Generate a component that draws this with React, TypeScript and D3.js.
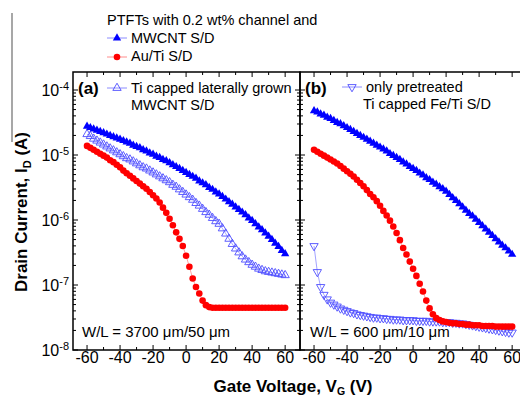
import React from 'react';
import * as d3 from 'd3';

// gate voltage sweep (V)
const gateVoltage = [
  -60, -58, -56, -54, -52, -50, -48, -46, -44, -42, -40, -38, -36, -34, -32, -30,
  -28, -26, -24, -22, -20, -18, -16, -14, -12, -10, -8, -6, -4, -2, 0,
  2, 4, 6, 8, 10, 12, 14, 16, 18, 20, 22, 24, 26, 28, 30,
  32, 34, 36, 38, 40, 42, 44, 46, 48, 50, 52, 54, 56, 58, 60,
];

// log10 of drain current (A)
// panel (a), W/L = 3700 um / 50 um
const aMwcnt = [
  -4.56, -4.58, -4.60, -4.62, -4.64, -4.66, -4.68, -4.70, -4.72, -4.74, -4.76, -4.78, -4.80, -4.82, -4.85, -4.87,
  -4.89, -4.92, -4.94, -4.97, -4.99, -5.02, -5.04, -5.07, -5.09, -5.12, -5.15, -5.18, -5.21, -5.24, -5.27,
  -5.30, -5.33, -5.36, -5.40, -5.43, -5.46, -5.50, -5.53, -5.57, -5.60, -5.64, -5.68, -5.72, -5.76, -5.80,
  -5.84, -5.88, -5.92, -5.97, -6.01, -6.06, -6.11, -6.15, -6.20, -6.25, -6.30, -6.36, -6.41, -6.47, -6.52,
];
const aTiCapped = [
  -4.68, -4.71, -4.75, -4.78, -4.81, -4.84, -4.87, -4.90, -4.93, -4.96, -4.99, -5.02, -5.05, -5.07, -5.10, -5.13,
  -5.16, -5.19, -5.21, -5.24, -5.27, -5.30, -5.33, -5.36, -5.39, -5.42, -5.46, -5.49, -5.53, -5.57, -5.61,
  -5.65, -5.69, -5.74, -5.78, -5.83, -5.88, -5.92, -5.97, -6.02, -6.06, -6.13, -6.21, -6.29, -6.37, -6.44,
  -6.50, -6.56, -6.61, -6.65, -6.69, -6.72, -6.75, -6.77, -6.79, -6.80, -6.81, -6.82, -6.83, -6.84, -6.85,
];
const aAuTi = [
  -4.86, -4.89, -4.92, -4.95, -4.98, -5.01, -5.04, -5.08, -5.11, -5.15, -5.19, -5.24, -5.28, -5.32, -5.36, -5.40,
  -5.44, -5.48, -5.52, -5.57, -5.62, -5.67, -5.73, -5.81, -5.89, -5.98, -6.08, -6.19, -6.29, -6.40, -6.55,
  -6.72, -6.90, -7.03, -7.13, -7.24, -7.31, -7.34, -7.35, -7.35, -7.35, -7.35, -7.35, -7.35, -7.35, -7.35,
  -7.35, -7.35, -7.35, -7.35, -7.35, -7.35, -7.35, -7.35, -7.35, -7.35, -7.35, -7.35, -7.35, -7.35, -7.35,
];
// panel (b), W/L = 600 um / 10 um
const bMwcnt = [
  -4.32, -4.34, -4.37, -4.39, -4.42, -4.44, -4.47, -4.50, -4.52, -4.55, -4.58, -4.61, -4.64, -4.67, -4.70, -4.73,
  -4.76, -4.79, -4.82, -4.85, -4.88, -4.91, -4.94, -4.98, -5.01, -5.04, -5.07, -5.11, -5.14, -5.18, -5.21,
  -5.24, -5.28, -5.31, -5.35, -5.38, -5.42, -5.45, -5.49, -5.52, -5.56, -5.61, -5.66, -5.70, -5.75, -5.80,
  -5.85, -5.90, -5.94, -5.99, -6.04, -6.09, -6.14, -6.19, -6.24, -6.29, -6.34, -6.39, -6.43, -6.48, -6.53,
];
const bPretreated = [
  -6.40, -6.80, -7.03, -7.15, -7.22, -7.27, -7.30, -7.33, -7.36, -7.38, -7.40, -7.42, -7.43, -7.45, -7.46, -7.47,
  -7.48, -7.49, -7.50, -7.50, -7.51, -7.51, -7.52, -7.52, -7.53, -7.53, -7.53, -7.54, -7.54, -7.54, -7.54,
  -7.55, -7.55, -7.55, -7.55, -7.56, -7.56, -7.56, -7.56, -7.57, -7.57, -7.57, -7.58, -7.58, -7.59, -7.59,
  -7.60, -7.61, -7.62, -7.63, -7.64, -7.65, -7.66, -7.67, -7.68, -7.69, -7.70, -7.71, -7.72, -7.73, -7.73,
];
const bAuTi = [
  -4.92, -4.95, -4.98, -5.01, -5.04, -5.07, -5.10, -5.13, -5.17, -5.21, -5.25, -5.29, -5.33, -5.38, -5.43, -5.48,
  -5.54, -5.60, -5.65, -5.71, -5.78, -5.86, -5.93, -6.01, -6.10, -6.20, -6.31, -6.43, -6.53, -6.64, -6.75,
  -6.86, -6.98, -7.10, -7.24, -7.36, -7.45, -7.51, -7.54, -7.56, -7.57, -7.58, -7.59, -7.59, -7.60, -7.60,
  -7.61, -7.61, -7.62, -7.62, -7.62, -7.63, -7.63, -7.63, -7.63, -7.64, -7.64, -7.64, -7.64, -7.64, -7.64,
];

const xTicks = [-60, -40, -20, 0, 20, 40, 60];
const xMinorTicks = [-50, -30, -10, 10, 30, 50];
const decades = [-8, -7, -6, -5, -4];

const FONT = '"Liberation Sans", Arial, sans-serif';
const BLUE = '#0000ff';
const OPEN_BLUE = '#4d4dff';
const RED = '#ff0000';
const BLUE_LINE = '#8c8cff';
const RED_LINE = '#ff8c8c';

const W = 520;
const H = 399;
const top = 72;
const bottom = 350;

const y = d3.scaleLog().domain([1e-8, Math.pow(10, -3.723)]).range([bottom, top]);
const xDomain: [number, number] = [-68.5, 69];
const xA = d3.scaleLinear().domain(xDomain).range([73, 300]);
const xB = d3.scaleLinear().domain(xDomain).range([300, 527]);

const triPath = d3.symbol().type(d3.symbolTriangle).size(30)() as string;

type Kind = 'filled' | 'open' | 'openDown' | 'dot';

function Marker({ kind, cx, cy }: { kind: Kind; cx: number; cy: number }) {
  if (kind === 'dot') return <circle cx={cx} cy={cy} r={3.3} fill={RED} />;
  if (kind === 'filled') return <path d={triPath} transform={`translate(${cx},${cy})`} fill={BLUE} />;
  return (
    <path
      d={triPath}
      transform={`translate(${cx},${cy})${kind === 'openDown' ? ' rotate(180)' : ''}`}
      fill="none"
      stroke={OPEN_BLUE}
      strokeWidth={0.9}
    />
  );
}

function Series({ x, values, kind }: { x: d3.ScaleLinear<number, number>; values: number[]; kind: Kind }) {
  const pts = gateVoltage.map((v, i) => [x(v), y(Math.pow(10, values[i]))] as [number, number]);
  const line = d3.line()(pts) as string;
  const stroke = kind === 'dot' ? RED_LINE : BLUE_LINE;
  return (
    <g>
      <path d={line} fill="none" stroke={stroke} strokeWidth={0.8} />
      {pts.map(([cx, cy], i) => <Marker key={i} kind={kind} cx={cx} cy={cy} />)}
    </g>
  );
}

function Frame({ x }: { x: d3.ScaleLinear<number, number> }) {
  const [x0, x1] = x.range();
  const minorY: number[] = [];
  decades.slice(0, -1).forEach(d => {
    for (let k = 2; k <= 9; k++) minorY.push(k * Math.pow(10, d));
  });
  minorY.push(2e-4);
  const ticks: JSX.Element[] = [];
  xTicks.forEach(t => {
    ticks.push(<line key={`b${t}`} x1={x(t)} x2={x(t)} y1={bottom} y2={bottom - 5} />);
    ticks.push(<line key={`t${t}`} x1={x(t)} x2={x(t)} y1={top} y2={top + 5} />);
  });
  xMinorTicks.forEach(t => {
    ticks.push(<line key={`bm${t}`} x1={x(t)} x2={x(t)} y1={bottom} y2={bottom - 3} />);
    ticks.push(<line key={`tm${t}`} x1={x(t)} x2={x(t)} y1={top} y2={top + 3} />);
  });
  decades.forEach(d => {
    const yy = y(Math.pow(10, d));
    ticks.push(<line key={`l${d}`} x1={x0} x2={x0 + 5} y1={yy} y2={yy} />);
    ticks.push(<line key={`r${d}`} x1={x1} x2={x1 - 5} y1={yy} y2={yy} />);
  });
  minorY.forEach((v, i) => {
    const yy = y(v);
    if (yy < top) return;
    ticks.push(<line key={`lm${i}`} x1={x0} x2={x0 + 3} y1={yy} y2={yy} />);
    ticks.push(<line key={`rm${i}`} x1={x1} x2={x1 - 3} y1={yy} y2={yy} />);
  });
  return (
    <g stroke="#000" strokeWidth={1}>
      {ticks}
      <rect x={x0} y={top} width={x1 - x0} height={bottom - top} fill="none" strokeWidth={1.5} />
    </g>
  );
}

function XLabels({ x }: { x: d3.ScaleLinear<number, number> }) {
  return (
    <g fontSize={16} textAnchor="middle">
      {xTicks.map(t => (
        <text key={t} x={x(t)} y={bottom + 13}>{t}</text>
      ))}
    </g>
  );
}

export default function App() {
  return (
    <svg
      width={W}
      height={H}
      style={{ position: 'absolute', left: 0, top: 0, background: '#fff' }}
      fontFamily={FONT}
    >
      <rect width={W} height={H} fill="#fff" />
      <line x1={12} x2={12} y1={13} y2={142} stroke="#8a8a8a" strokeWidth={1.5} />

      {/* top legend */}
      <text x={107} y={25} fontSize={14.5}>PTFTs with 0.2 wt% channel and</text>
      <line x1={107} x2={127} y1={38} y2={38} stroke={BLUE_LINE} />
      <Marker kind="filled" cx={117} cy={38} />
      <text x={131} y={43} fontSize={14.5}>MWCNT S/D</text>
      <line x1={107} x2={127} y1={57} y2={57} stroke={RED_LINE} />
      <Marker kind="dot" cx={117} cy={57} />
      <text x={131} y={61} fontSize={14.5}>Au/Ti S/D</text>

      {/* panel (a) */}
      <Series x={xA} values={aTiCapped} kind="open" />
      <Series x={xA} values={aMwcnt} kind="filled" />
      <Series x={xA} values={aAuTi} kind="dot" />

      {/* panel (b) */}
      <Series x={xB} values={bPretreated} kind="openDown" />
      <Series x={xB} values={bMwcnt} kind="filled" />
      <Series x={xB} values={bAuTi} kind="dot" />

      <Frame x={xA} />
      <Frame x={xB} />

      <text x={78} y={94} fontSize={17} fontWeight="bold">(a)</text>
      <line x1={107} x2={127} y1={88} y2={88} stroke={BLUE_LINE} />
      <Marker kind="open" cx={117} cy={88} />
      <text x={131} y={93} fontSize={14.5}>Ti capped laterally grown</text>
      <text x={131} y={110} fontSize={14.5}>MWCNT S/D</text>

      <text x={305} y={94} fontSize={17} fontWeight="bold">(b)</text>
      <line x1={342} x2={362} y1={87} y2={87} stroke={BLUE_LINE} />
      <Marker kind="openDown" cx={352} cy={87} />
      <text x={366} y={92} fontSize={14.5}>only pretreated</text>
      <text x={363} y={109} fontSize={14.5}>Ti capped Fe/Ti S/D</text>

      <text x={82} y={337} fontSize={15}>W/L = 3700 μm/50 μm</text>
      <text x={310} y={337} fontSize={15}>W/L = 600 μm/10 μm</text>

      {/* y tick labels */}
      <g fontSize={16} textAnchor="end">
        {decades.map(d => (
          <text key={d} x={69} y={y(Math.pow(10, d)) + 5.5}>
            10<tspan fontSize={11} dy={-6}>{d}</tspan>
          </text>
        ))}
      </g>
      <XLabels x={xA} />
      <XLabels x={xB} />

      {/* axis titles */}
      <text x={293} y={392} fontSize={17} fontWeight="bold" textAnchor="middle">
        Gate Voltage, V<tspan fontSize={10.5} dy={3}>G</tspan><tspan dy={-3}> (V)</tspan>
      </text>
      <text
        transform="translate(27,212) rotate(-90)"
        fontSize={17}
        fontWeight="bold"
        textAnchor="middle"
      >
        Drain Current, I<tspan fontSize={11} dy={4}>D</tspan><tspan dy={-4}> (A)</tspan>
      </text>
    </svg>
  );
}
